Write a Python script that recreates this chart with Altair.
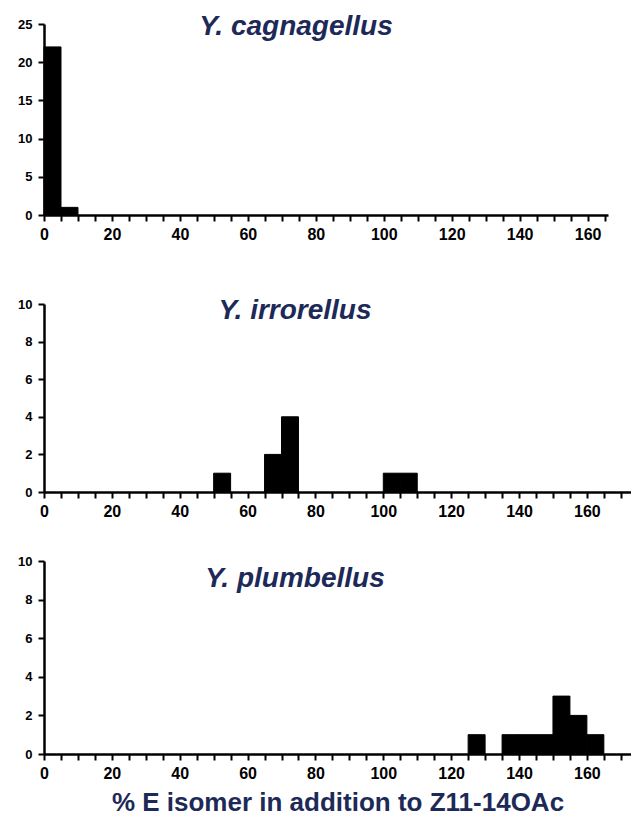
import altair as alt
import pandas as pd

# ---- data ----
species = ["Y. cagnagellus", "Y. irrorellus", "Y. plumbellus"]
bin_width = 5
cag_start = [0, 5]
cag_count = [22, 1]
irr_start = [50, 65, 70, 100, 105]
irr_count = [1, 2, 4, 1, 1]
plu_start = [125, 135, 140, 145, 150, 155, 160]
plu_count = [1, 1, 1, 1, 3, 2, 1]
x_ticks = list(range(0, 175, 5))
x_title = "% E isomer in addition to Z11-14OAc"

FONT = "Liberation Sans"
NAVY = "#1d2a58"


def panel(name, starts, counts, xmax, ymax, ystep, width, height,
          tx, ty, show_title=False):
    df = pd.DataFrame({
        "start": starts,
        "end": [s + bin_width for s in starts],
        "count": counts,
    })
    xvals = [v for v in x_ticks if v <= xmax]
    xaxis_kw = dict(
        values=xvals,
        labelExpr="datum.value % 20 == 0 ? datum.label : ''",
        labelOverlap=False,
        labelFlush=False,
        labelFontSize=16,
        labelPadding=5,
        tickSize=6,
        grid=False,
    )
    if show_title:
        xaxis_kw.update(title=x_title, titleFontSize=26, titleColor=NAVY,
                        titleFont=FONT, titleFontWeight="bold", titlePadding=8)
    else:
        xaxis_kw.update(title=None)
    bars = alt.Chart(df).mark_rect(color="black", stroke="black",
                                   strokeWidth=1).encode(
        x=alt.X("start:Q", scale=alt.Scale(domain=[0, xmax], nice=False),
                axis=alt.Axis(**xaxis_kw)),
        x2="end:Q",
        y=alt.Y("count:Q", scale=alt.Scale(domain=[0, ymax], nice=False),
                axis=alt.Axis(values=list(range(0, ymax + 1, ystep)), title=None,
                              grid=False, labelFontSize=13, tickSize=6,
                              labelPadding=6)),
        y2=alt.datum(0),
    )
    label = alt.Chart(pd.DataFrame({"name": [name]})).mark_text(
        font=FONT, fontSize=28, fontWeight="bold", fontStyle="italic",
        color=NAVY, align="center", baseline="alphabetic",
    ).encode(x=alt.value(tx), y=alt.value(ty), text="name:N")
    return alt.layer(bars, label).properties(width=width, height=height)


top = panel(species[0], cag_start, cag_count, 166, 25, 5, 564, 191, 252, 11)
mid = panel(species[1], irr_start, irr_count, 173, 10, 2, 587, 188, 251, 15)
bot = panel(species[2], plu_start, plu_count, 173, 10, 2, 587, 193, 251, 26,
            show_title=True)

chart = alt.vconcat(
    top,
    alt.vconcat(mid, bot, spacing=36),
    spacing=55,
).properties(
    padding={"left": 9, "top": 5, "right": 0, "bottom": 0}
).configure_view(
    strokeWidth=0
).configure_axis(
    domainColor="black",
    domainWidth=2.5,
    tickColor="black",
    tickWidth=2,
    labelColor="black",
    labelFont=FONT,
    labelFontWeight="bold",
)

chart.save("out.html", embed_options={"renderer": "svg", "actions": False})
